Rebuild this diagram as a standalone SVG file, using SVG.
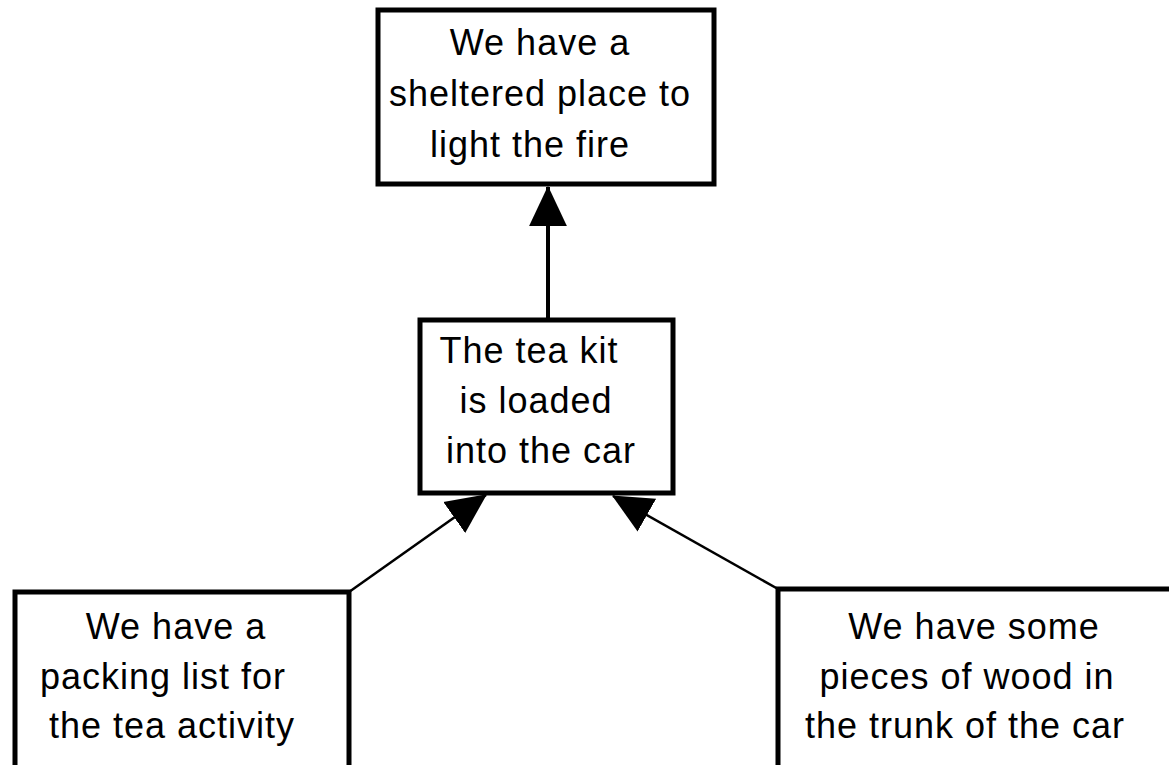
<svg xmlns="http://www.w3.org/2000/svg" width="1169" height="765" viewBox="0 0 1169 765">
  <style>
    .box { fill: #fff; stroke: #000; stroke-width: 5; }
    .lbl { font-family: "Liberation Sans", Arial, sans-serif; font-size: 36px; fill: #000; text-anchor: middle; letter-spacing: 1px; }
    .conn { stroke: #000; fill: none; }
  </style>
  <defs>
    <marker id="arr" markerUnits="userSpaceOnUse" markerWidth="40" markerHeight="40" viewBox="0 0 36 34" refX="35" refY="17" orient="auto">
      <path d="M0,0 L36,17 L0,34 z" fill="#000"/>
    </marker>
  </defs>
  <rect width="1169" height="765" fill="#fff"/>
  <g id="connectors">
    <line class="conn" x1="548" y1="320" x2="548" y2="187" stroke-width="4" marker-end="url(#arr)"/>
    <line class="conn" x1="349" y1="592" x2="486" y2="495" stroke-width="2.5" marker-end="url(#arr)"/>
    <line class="conn" x1="778" y1="589" x2="613" y2="496" stroke-width="2.5" marker-end="url(#arr)"/>
  </g>
  <g id="node-shelter">
    <rect class="box" x="378" y="10" width="336" height="174"/>
    <text class="lbl" x="540" y="55">We have a</text>
    <text class="lbl" x="540" y="106">sheltered place to</text>
    <text class="lbl" x="530" y="157">light the fire</text>
  </g>
  <g id="node-teakit">
    <rect class="box" x="420" y="320" width="253" height="173"/>
    <text class="lbl" x="529" y="363">The tea kit</text>
    <text class="lbl" x="536" y="413">is loaded</text>
    <text class="lbl" x="541" y="463">into the car</text>
  </g>
  <g id="node-packing">
    <rect class="box" x="15" y="592" width="334" height="200"/>
    <text class="lbl" x="176" y="639">We have a</text>
    <text class="lbl" x="163" y="689">packing list for</text>
    <text class="lbl" x="172" y="738">the tea activity</text>
  </g>
  <g id="node-wood">
    <rect class="box" x="778" y="589" width="420" height="200"/>
    <text class="lbl" x="974" y="639">We have some</text>
    <text class="lbl" x="967" y="689">pieces of wood in</text>
    <text class="lbl" x="965" y="738">the trunk of the car</text>
  </g>
</svg>
